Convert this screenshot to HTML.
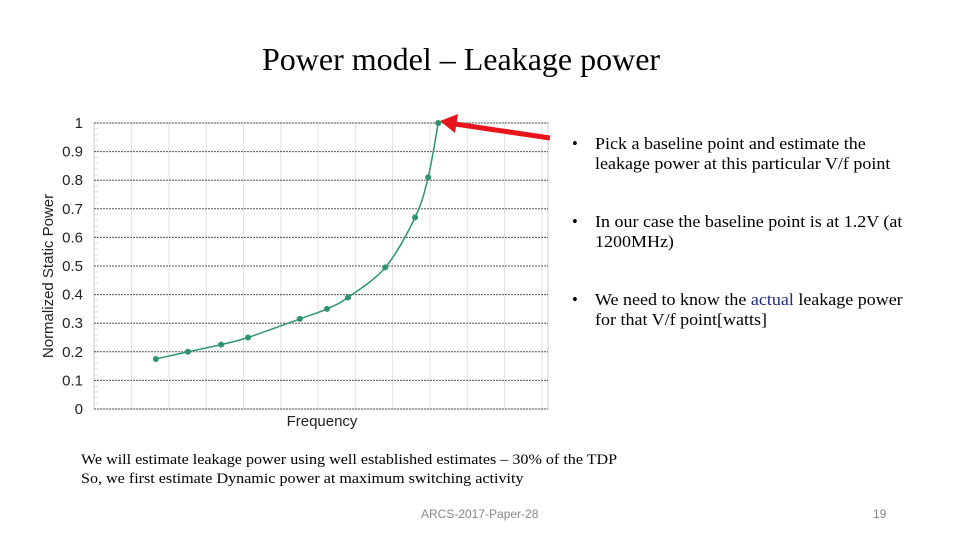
<!DOCTYPE html>
<html><head><meta charset="utf-8">
<style>
body{margin:0;width:960px;height:540px;background:#fff;position:relative;overflow:hidden;font-family:"Liberation Serif",serif;}
.t{position:absolute;white-space:nowrap;color:#000;}
.b{position:absolute;left:572px;font-size:16.5px;line-height:20px;white-space:nowrap;}
.b .dot{position:absolute;left:0;top:0;}
.b .tx{position:absolute;left:23px;top:0;transform-origin:0 0;transform:scaleX(1.09);}
</style></head>
<body>
<div class="t" style="left:262px;top:41px;font-size:32px;">Power model – Leakage power</div>
<svg id="chart" width="960" height="540" style="position:absolute;left:0;top:0"></svg>
<div class="b" style="top:134px;"><span class="dot">•</span><span class="tx">Pick a baseline point and estimate the<br>leakage power at this particular V/f point</span></div>
<div class="b" style="top:212px;"><span class="dot">•</span><span class="tx">In our case the baseline point is at 1.2V (at<br>1200MHz)</span></div>
<div class="b" style="top:290px;"><span class="dot">•</span><span class="tx">We need to know the <span style="color:#1f2a80">actual</span> leakage power<br>for that V/f point[watts]</span></div>
<div class="t" style="left:81px;top:451px;font-size:14.5px;line-height:19px;transform:scaleX(1.11);transform-origin:0 0">We will estimate leakage power using well established estimates – 30% of the TDP<br>So, we first estimate Dynamic power at maximum switching activity</div>
<div class="t" style="left:421px;top:507px;font-size:12px;color:#888;font-family:'Liberation Sans',sans-serif;">ARCS-2017-Paper-28</div>
<div class="t" style="left:873px;top:507px;font-size:12px;color:#888;font-family:'Liberation Sans',sans-serif;">19</div>
<script>
const xVals=[1.65,2.51,3.4,4.12,5.51,6.24,6.8,7.8,8.6,8.95,9.22];
const yVals=[0.175,0.2,0.225,0.25,0.315,0.35,0.39,0.495,0.67,0.81,1.0];
const yTicks=[0,0.1,0.2,0.3,0.4,0.5,0.6,0.7,0.8,0.9,1];
const yTickLabels=["0","0.1","0.2","0.3","0.4","0.5","0.6","0.7","0.8","0.9","1"];
const NS="http://www.w3.org/2000/svg";
const svg=document.getElementById('chart');
const X0=94.3,XS=37.3,Y0=409,Y1=123;
const sx=v=>X0+v*XS, sy=v=>Y0-(Y0-Y1)*v;
function mk(tag,a,parent){const e=document.createElementNS(NS,tag);for(const k in a)e.setAttribute(k,a[k]);(parent||svg).appendChild(e);return e;}
const bg=mk('rect',{x:94,y:123,width:454,height:286,fill:'#fff',stroke:'#ccc'});


for(let i=1;i<=12;i++){const l=mk('line',{x1:sx(i),x2:sx(i),y1:123,y2:409,stroke:'#e2e2e2'});

}
for(let k=0;k<50;k++){const y=409-k*286/50;const m=mk('line',{x1:94,x2:98,y1:y,y2:y,stroke:'#ddd'});

}
yTicks.forEach((t,i)=>{
const l=mk('line',{x1:94,x2:548,y1:sy(t),y2:sy(t),stroke:'#555','stroke-dasharray':'2,1'});


const tx=mk('text',{x:83,y:sy(t)+5,'text-anchor':'end','font-size':'15','font-family':'Liberation Sans, sans-serif',fill:'#222'});
tx.textContent=yTickLabels[i];


});
const yt=mk('text',{transform:'translate(53,276) rotate(-90)','text-anchor':'middle','font-size':'15','font-family':'Liberation Sans, sans-serif',fill:'#222'});
yt.textContent='Normalized Static Power';


const xt=mk('text',{x:322,y:426,'text-anchor':'middle','font-size':'15','font-family':'Liberation Sans, sans-serif',fill:'#222'});
xt.textContent='Frequency';


const P=xVals.map((v,i)=>[sx(v),sy(yVals[i])]);
let d='M'+P[0][0]+','+P[0][1];
for(let i=0;i<P.length-1;i++){const p0=P[Math.max(0,i-1)],p1=P[i],p2=P[i+1],p3=P[Math.min(P.length-1,i+2)];
d+=' C'+(p1[0]+(p2[0]-p0[0])/6)+','+(p1[1]+(p2[1]-p0[1])/6)+' '+(p2[0]-(p3[0]-p1[0])/6)+','+(p2[1]-(p3[1]-p1[1])/6)+' '+p2[0]+','+p2[1];}
const ln=mk('path',{d:d,fill:'none',stroke:'#2e9470','stroke-width':'1.5'});


P.forEach(p=>{const c=mk('circle',{cx:p[0],cy:p[1],r:3,fill:'#2e9470'});

});
const ar=mk('line',{x1:550,y1:138,x2:455,y2:124,stroke:'#e8141c','stroke-width':'5'});


const ah=mk('polygon',{points:'440,121 458,114 455,133',fill:'#e8141c'});


</script>
</body></html>
